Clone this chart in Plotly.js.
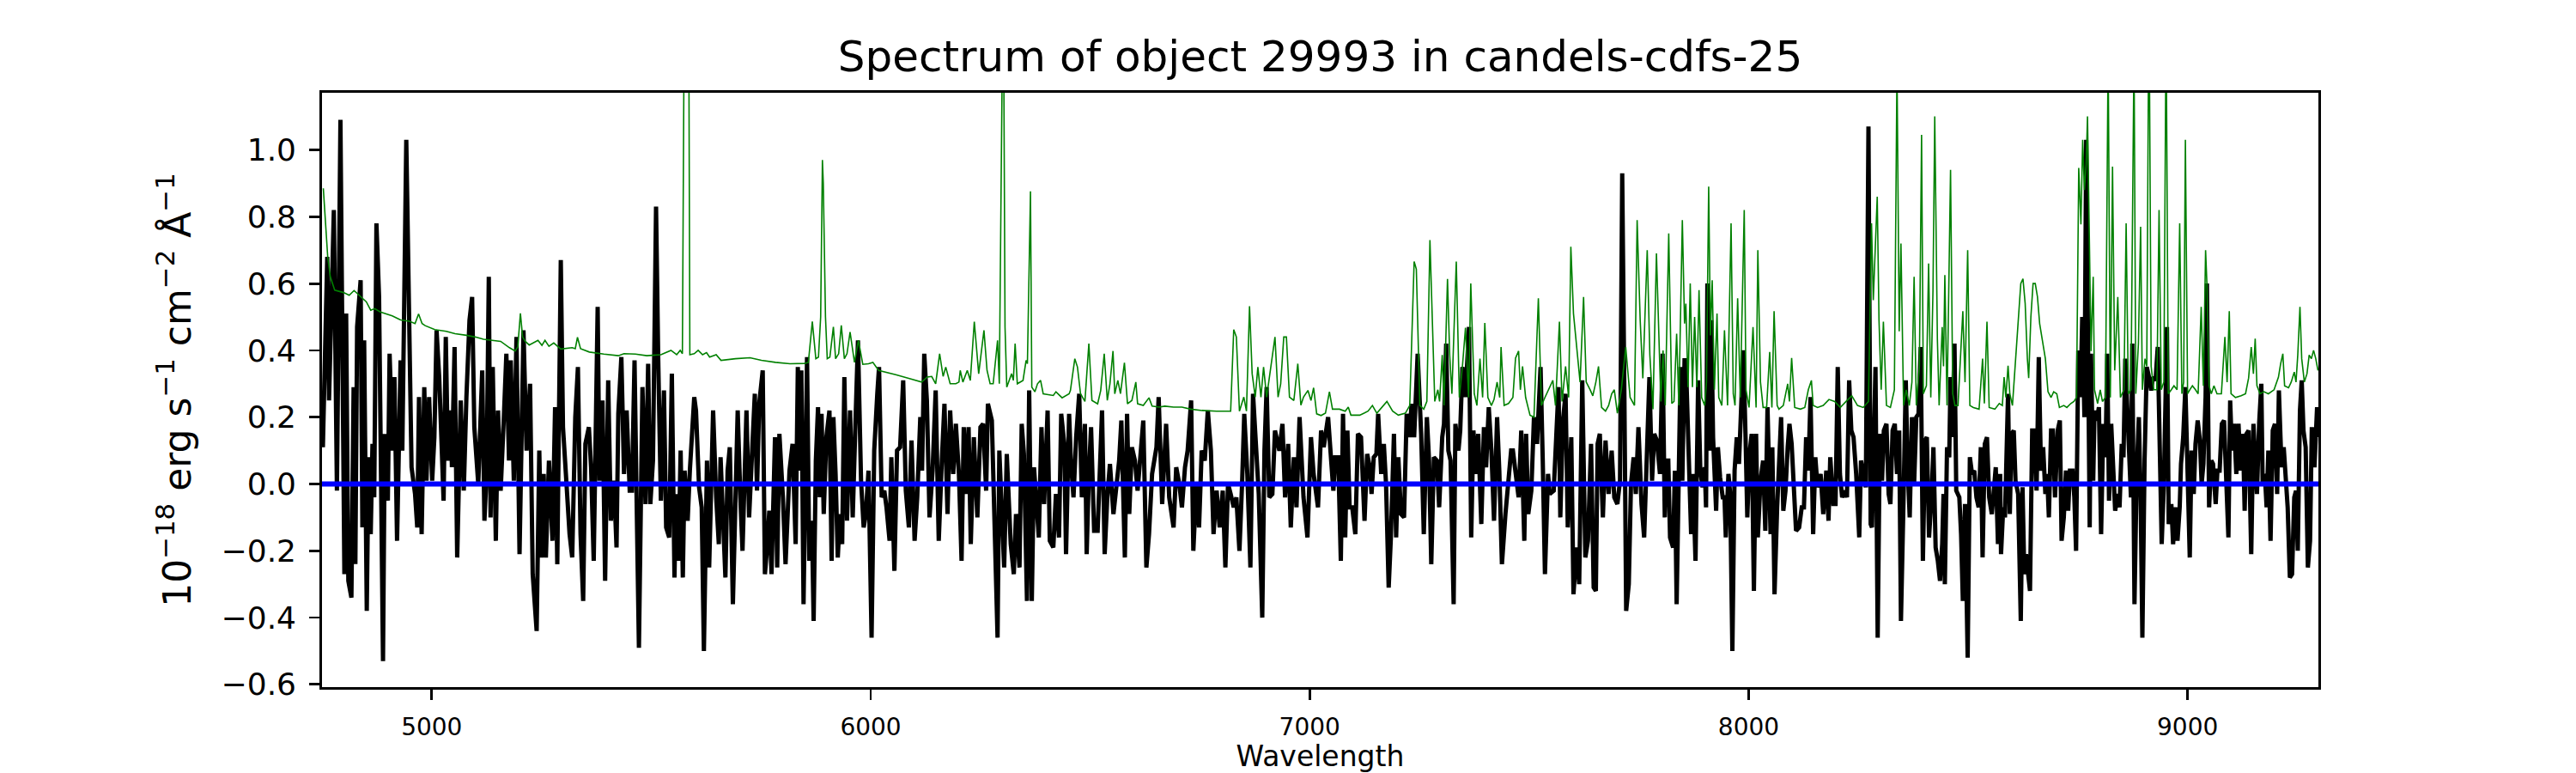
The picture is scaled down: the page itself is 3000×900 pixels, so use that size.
<!DOCTYPE html>
<html>
<head>
<meta charset="utf-8">
<script src="https://cdn.plot.ly/plotly-3.0.1.min.js"></script>
<style>
  body { margin: 0; background: #fff; }
  #chart { width: 3000px; height: 900px; }
</style>
</head>
<body>
<div id="chart"></div>
<script>
// object flux, [wavelength (A), 1e-18 erg/s/cm2/A]
const fluxBlue = [[4752,0.11],[4762,0.68],[4766,0.25],[4777,0.82],[4784,-0.02],[4792,1.09],[4801,-0.27],[4805,0.51],[4810,-0.29],[4817,-0.34],[4822,0.29],[4826,-0.24],[4830,0.47],[4838,0.61],[4842,-0.13],[4846,0.43],[4852,-0.38],[4856,0.08],[4861,-0.15],[4865,0.12],[4869,-0.04],[4874,0.78],[4880,0.56],[4889,-0.53],[4893,0.15],[4900,-0.05],[4904,0.39],[4911,0.10],[4915,0.32],[4921,-0.17],[4929,0.37],[4933,0.10],[4942,1.03],[4947,0.60],[4954,0.05],[4962,-0.03],[4967,-0.13],[4971,0.26],[4977,-0.15],[4983,0.29],[4988,0.01],[4994,0.26],[5001,0.01],[5006,0.14],[5011,0.46],[5017,0.32],[5027,-0.05],[5032,0.44],[5037,0.07],[5043,0.22],[5046,0.05],[5052,0.41],[5058,-0.22],[5066,0.25],[5073,-0.02],[5079,0.26],[5086,0.49],[5092,0.56],[5097,0.17],[5106,0.00],[5115,0.34],[5120,-0.11],[5125,0.03],[5130,0.62],[5134,-0.10],[5139,0.35],[5146,-0.17],[5151,0.22],[5157,-0.02],[5164,0.19],[5170,0.39],[5176,0.07],[5180,0.37],[5187,0.01],[5193,0.44],[5200,-0.21],[5209,0.46],[5216,0.10],[5224,0.30],[5230,-0.27],[5239,-0.44],[5245,0.10],[5250,-0.22],[5255,0.03],[5260,-0.22],[5267,0.07],[5275,-0.17],[5281,0.23],[5286,-0.24],[5294,0.67],[5299,0.17],[5307,0.00],[5314,-0.15],[5320,-0.22],[5327,0.20],[5333,0.35],[5339,-0.15],[5345,-0.35],[5350,0.12],[5358,0.17],[5363,0.05],[5369,-0.23],[5378,0.53],[5382,0.01],[5389,0.25],[5395,-0.29],[5402,0.31],[5408,-0.11],[5415,0.01],[5421,-0.19],[5425,0.21],[5432,0.38],[5438,0.03],[5444,0.22],[5451,-0.02],[5456,-0.02],[5462,0.37],[5467,-0.07],[5472,-0.49],[5480,0.29],[5487,-0.06],[5493,0.36],[5498,-0.06],[5504,0.07],[5511,0.83],[5516,0.37],[5522,-0.05]];
const fluxGreen = [[5529,0.28],[5534,-0.13],[5541,-0.16],[5547,0.33],[5553,-0.28],[5556,-0.03],[5562,-0.23],[5567,0.10],[5572,-0.28],[5576,0.04],[5583,-0.11],[5588,0.04],[5598,0.26],[5602,0.22],[5609,-0.01],[5615,-0.07],[5620,-0.50],[5627,0.07],[5632,-0.25],[5641,0.22],[5648,-0.04],[5654,-0.18],[5658,0.08],[5663,-0.09],[5669,-0.28],[5674,0.04],[5679,0.11],[5686,-0.36],[5691,-0.04],[5697,0.22],[5703,-0.04],[5708,-0.20],[5717,0.22],[5723,-0.10],[5731,0.13],[5736,0.27],[5741,-0.02],[5746,0.24],[5754,0.34],[5759,-0.27],[5764,-0.19],[5769,-0.08],[5774,-0.27],[5782,0.14],[5787,-0.25],[5792,0.15],[5800,-0.04],[5806,-0.24],[5815,0.04],[5822,0.12],[5829,-0.18],[5834,0.35],[5839,0.04],[5842,0.34],[5847,-0.36],[5855,0.38],[5860,-0.23],[5866,-0.11],[5870,-0.41],[5875,0.07],[5880,0.23],[5884,-0.04],[5888,0.21],[5893,-0.09],[5899,0.14],[5906,0.22],[5911,-0.23],[5915,0.20],[5920,0.03],[5925,-0.22],[5930,-0.09],[5935,-0.18],[5940,0.32],[5946,-0.11],[5953,0.22],[5959,-0.10],[5965,0.17],[5971,0.43],[5978,0.01],[5984,-0.13],[5989,-0.09],[5995,0.04],[6002,-0.46],[6008,0.10],[6015,0.27],[6019,0.35],[6025,-0.04],[6031,-0.02],[6036,-0.07],[6043,-0.17],[6047,0.08],[6054,-0.26],[6060,0.10],[6067,0.11],[6074,0.31],[6080,-0.02],[6087,-0.13],[6093,0.13],[6100,-0.17],[6106,-0.04],[6113,0.20],[6117,0.04],[6122,0.39],[6128,0.25],[6134,-0.10],[6141,0.04],[6148,0.28],[6155,-0.17],[6162,0.07],[6168,0.24],[6175,-0.09],[6181,0.22],[6188,0.03],[6194,0.18],[6201,0.03],[6207,-0.23],[6212,0.17],[6219,-0.03],[6223,0.17],[6228,-0.18],[6235,0.14],[6243,-0.10],[6250,0.17],[6256,0.18],[6263,-0.02],[6267,0.24],[6276,0.19],[6282,-0.09]];
const fluxYellow = [[6289,-0.46],[6293,0.10],[6299,-0.09],[6304,-0.25],[6310,0.09],[6315,-0.09],[6319,-0.18],[6326,-0.27],[6331,-0.09],[6339,-0.25],[6344,0.18],[6349,0.09],[6356,-0.35],[6361,0.28],[6367,-0.35],[6372,0.05],[6377,-0.06],[6383,-0.16],[6389,0.17],[6395,-0.06],[6403,0.22],[6408,-0.17],[6416,-0.19],[6422,-0.03],[6429,-0.16],[6434,0.21],[6441,0.12],[6445,-0.21],[6452,0.21],[6456,0.07],[6462,-0.04],[6468,0.14],[6475,0.27],[6481,-0.04],[6488,0.18],[6492,-0.21],[6497,0.03],[6502,0.17],[6509,-0.14],[6517,-0.14],[6527,0.22],[6533,-0.21],[6539,-0.04],[6545,0.06],[6553,-0.09],[6559,-0.01],[6566,0.07],[6571,0.19],[6579,-0.22],[6584,0.21],[6589,-0.09],[6595,0.11],[6602,0.07],[6608,-0.02],[6621,0.19],[6628,-0.25],[6634,-0.15],[6641,0.03],[6651,0.11],[6656,0.26],[6664,-0.06],[6673,0.18],[6680,-0.04],[6690,-0.13],[6696,0.05],[6703,0.00],[6709,-0.07],[6716,0.05],[6722,0.10],[6730,0.25],[6735,-0.20],[6742,0.00],[6748,-0.13],[6754,0.10],[6761,0.07],[6768,0.22],[6775,0.10],[6781,-0.15],[6788,-0.02],[6795,-0.13],[6802,-0.02],[6808,-0.25],[6814,0.00],[6820,-0.03],[6827,-0.07],[6833,-0.04],[6840,-0.20],[6846,0.00],[6851,0.21],[6858,0.03],[6865,-0.25],[6871,0.27],[6879,0.06],[6884,-0.03],[6892,-0.40],[6897,0.10],[6902,0.29],[6908,-0.04],[6915,-0.03],[6921,0.16],[6931,0.10],[6938,0.18],[6944,-0.04],[6951,0.12],[6957,-0.13],[6964,0.08],[6970,-0.07],[6977,0.20],[6986,-0.04],[6995,-0.16],[7003,0.14],[7009,0.03],[7019,-0.07],[7026,0.16],[7032,0.11],[7042,0.20]];
const fluxOrange = [[7049,0.07],[7054,-0.02],[7058,0.08],[7065,0.08],[7071,-0.23],[7076,0.21],[7081,-0.16],[7086,0.16],[7091,-0.07],[7097,-0.07],[7104,-0.15],[7110,0.15],[7117,0.14],[7125,-0.11],[7131,0.09],[7137,0.05],[7141,-0.03],[7146,0.08],[7152,0.09],[7156,0.21],[7163,0.03],[7169,0.12],[7174,0.00],[7180,-0.31],[7185,-0.16],[7192,0.15],[7197,-0.16],[7202,0.08],[7208,-0.09],[7215,-0.10],[7221,0.21],[7228,0.14],[7232,0.24],[7238,0.14],[7246,0.39],[7254,0.15],[7260,-0.15],[7267,0.20],[7272,0.07],[7277,-0.24],[7283,0.08],[7290,0.07],[7295,-0.07],[7302,0.14],[7306,0.18],[7311,0.42],[7316,0.10],[7321,0.07],[7328,-0.36],[7332,0.18],[7339,0.10],[7343,0.16],[7348,0.35],[7355,0.26],[7363,0.47],[7368,-0.16],[7373,0.16],[7380,0.03],[7384,0.15],[7391,-0.12],[7397,0.17],[7402,0.05],[7408,0.23],[7414,0.10],[7420,-0.11],[7427,0.20],[7432,0.04],[7438,-0.24],[7446,-0.09],[7453,0.03],[7459,0.10],[7463,0.10],[7469,0.04],[7476,-0.04],[7482,0.16],[7489,-0.17],[7493,0.15],[7498,-0.09],[7505,-0.02],[7511,0.20],[7518,0.12],[7526,0.35],[7531,0.07],[7536,-0.27],[7543,0.03],[7547,-0.03],[7556,-0.02],[7560,0.11],[7567,0.29],[7571,-0.10],[7577,0.19],[7583,0.27],[7588,-0.13],[7596,0.14],[7601,-0.33],[7608,-0.19],[7614,-0.30],[7621,0.31],[7628,-0.22],[7634,-0.17],[7641,0.12],[7647,-0.31],[7652,-0.32],[7656,0.12],[7661,0.15],[7668,-0.10],[7674,0.13],[7681,-0.03],[7688,0.10],[7694,-0.04],[7701,-0.06],[7707,0.01],[7712,0.93],[7717,0.26],[7721,-0.38],[7727,-0.30],[7732,0.00],[7738,0.08],[7743,-0.03],[7749,0.17],[7756,-0.06],[7762,-0.16],[7769,0.13],[7774,0.32],[7780,0.01],[7785,0.15],[7791,0.13],[7798,0.03]];
const fluxRed = [[7804,0.39],[7809,-0.10],[7812,0.07],[7817,0.07],[7821,-0.16],[7828,-0.19],[7832,0.04],[7836,-0.36],[7841,0.04],[7845,0.35],[7849,0.01],[7854,0.37],[7857,0.37],[7860,0.23],[7865,-0.04],[7869,-0.15],[7873,0.03],[7879,-0.23],[7885,0.31],[7890,0.04],[7895,-0.01],[7900,0.05],[7903,-0.07],[7906,0.60],[7911,0.10],[7915,0.49],[7919,0.14],[7926,-0.08],[7930,0.11],[7935,0.02],[7941,-0.04],[7945,-0.04],[7948,-0.16],[7954,0.03],[7958,-0.03],[7963,-0.50],[7968,0.04],[7973,0.14],[7978,0.06],[7982,0.21],[7988,0.40],[7993,0.14],[7997,-0.10],[8002,0.09],[8007,0.15],[8012,-0.32],[8017,0.15],[8021,-0.16],[8027,0.01],[8033,0.07],[8038,-0.14],[8043,0.23],[8050,-0.15],[8054,0.11],[8059,-0.33],[8065,-0.07],[8069,0.03],[8074,0.20],[8079,-0.08],[8084,-0.02],[8089,0.11],[8093,0.18],[8098,0.12],[8104,-0.02],[8108,-0.14],[8115,-0.13],[8121,-0.07],[8126,-0.07],[8131,0.14],[8136,0.04],[8141,0.26],[8147,-0.15],[8152,0.08],[8157,-0.01],[8164,0.03],[8170,-0.09],[8177,0.04],[8182,-0.11],[8186,0.08],[8193,-0.06],[8198,-0.06],[8203,0.35],[8208,0.03],[8213,-0.04],[8219,-0.02],[8224,-0.04],[8229,0.31],[8234,0.16],[8239,0.14],[8245,0.03],[8252,-0.16],[8256,0.07],[8261,0.03],[8267,-0.01],[8273,1.07],[8278,-0.12],[8281,-0.13],[8284,0.03],[8289,0.35],[8294,-0.46],[8299,0.15],[8304,0.01],[8308,0.16],[8314,0.18],[8319,-0.03],[8323,-0.06],[8328,0.16],[8333,0.18],[8338,0.03],[8343,0.16],[8347,-0.41],[8353,-0.04],[8358,0.31],[8362,0.06],[8367,-0.10],[8372,0.20],[8377,0.00],[8382,0.20],[8387,0.21],[8392,0.41],[8397,-0.23],[8402,0.13],[8406,0.14],[8411,-0.16],[8417,-0.03],[8421,0.11],[8426,-0.19],[8431,-0.23],[8436,-0.29],[8441,-0.18],[8444,-0.03],[8447,-0.30],[8452,0.11],[8457,0.08],[8460,0.32],[8464,0.14],[8469,0.42],[8473,-0.02],[8480,-0.04],[8484,-0.15],[8488,-0.35],[8493,-0.06],[8499,-0.52],[8504,0.08],[8509,0.03],[8514,0.04],[8519,-0.04],[8524,-0.07],[8529,0.11],[8533,-0.22],[8538,0.12],[8543,0.14],[8548,-0.04],[8554,-0.09],[8558,-0.04],[8563,0.05],[8568,-0.18],[8573,0.03]];
const fluxIR = [[8575,-0.21],[8580,-0.07],[8584,-0.10],[8591,0.27],[8595,-0.09],[8599,0.15],[8604,0.16],[8608,0.01],[8614,-0.03],[8620,-0.41],[8624,-0.01],[8628,-0.27],[8632,-0.21],[8637,-0.27],[8641,-0.32],[8646,0.16],[8651,0.16],[8656,-0.02],[8661,0.38],[8666,0.04],[8671,0.11],[8676,-0.03],[8680,0.03],[8684,-0.10],[8689,0.16],[8693,0.16],[8698,-0.04],[8704,0.16],[8709,0.19],[8713,-0.17],[8718,-0.10],[8723,0.04],[8728,-0.08],[8732,0.04],[8738,0.04],[8742,-0.04],[8746,-0.20],[8751,0.40],[8756,0.26],[8760,0.50],[8765,0.20],[8769,1.03],[8773,0.47],[8777,-0.13],[8780,0.39],[8785,0.01],[8788,0.22],[8793,0.19],[8798,0.23],[8803,-0.15],[8808,0.18],[8813,0.08],[8817,0.39],[8821,-0.05],[8826,0.18],[8830,0.05],[8835,-0.08],[8841,-0.03],[8845,-0.07],[8850,0.12],[8854,0.08],[8858,0.375],[8863,0.18],[8867,0.03],[8871,-0.04],[8874,0.42],[8879,-0.36],[8884,0.03],[8889,0.20],[8893,-0.04],[8897,-0.46],[8902,0.07],[8907,0.35],[8912,0.32],[8917,0.28],[8921,0.32],[8927,0.31],[8932,0.41],[8936,0.14],[8941,-0.18],[8946,0.00],[8953,0.47],[8957,-0.12],[8963,-0.06],[8967,-0.18],[8972,-0.07],[8977,-0.17],[8982,-0.07],[8985,0.06],[8990,0.14],[8995,0.29],[9000,0.00],[9005,-0.22],[9009,0.10],[9014,-0.03],[9018,0.12],[9023,0.19],[9028,0.13],[9032,0.00],[9036,0.06],[9041,0.26],[9044,0.60],[9049,-0.07],[9054,0.07],[9058,0.06],[9064,-0.06],[9068,0.04],[9073,0.04],[9078,0.18],[9083,0.19],[9088,0.01],[9093,-0.16],[9097,0.25],[9101,0.10],[9106,0.18],[9111,0.03],[9116,0.18],[9121,0.04],[9126,0.15],[9130,-0.08],[9134,0.15],[9139,0.16],[9145,-0.21],[9150,0.18],[9154,0.07],[9158,-0.03],[9163,0.18],[9168,0.30],[9171,0.00],[9176,0.03],[9180,-0.07],[9184,0.10],[9189,-0.17],[9194,0.16],[9199,0.18],[9204,-0.03],[9208,0.28],[9214,0.05],[9219,0.11],[9223,0.03],[9228,-0.07],[9233,-0.28],[9238,-0.27],[9243,-0.04],[9247,-0.02],[9251,-0.20],[9256,0.22],[9260,0.31],[9264,0.16],[9269,0.11],[9274,-0.25],[9279,-0.17],[9283,0.17],[9289,0.05],[9292,0.20],[9295,0.23],[9298,0.14]];

// noise / sky spectrum (thin green line), same units
const skyBlue = [[4753,0.885],[4763,0.68],[4769,0.62],[4779,0.58],[4799,0.573],[4812,0.565],[4823,0.579],[4838,0.561],[4851,0.545],[4861,0.52],[4870,0.525],[4883,0.515],[4896,0.51],[4910,0.503],[4923,0.495],[4929,0.491],[4949,0.487],[4962,0.48],[4970,0.509],[4978,0.48],[4985,0.474],[5007,0.462],[5033,0.457],[5053,0.45],[5079,0.445],[5099,0.44],[5118,0.433],[5138,0.43],[5157,0.427],[5177,0.408],[5190,0.398],[5196,0.41],[5202,0.511],[5207,0.44],[5213,0.427],[5222,0.416],[5242,0.43],[5251,0.415],[5258,0.43],[5267,0.412],[5278,0.422],[5294,0.404],[5320,0.408],[5327,0.405],[5332,0.439],[5339,0.405],[5359,0.395],[5392,0.389],[5425,0.384],[5438,0.39],[5464,0.389],[5490,0.384],[5522,0.387]];
const skyGreen = [[5545,0.40],[5558,0.387],[5566,0.40],[5571,0.39],[5576,1.6],[5585,1.6],[5588,0.387],[5598,0.39],[5607,0.40],[5617,0.387],[5626,0.393],[5633,0.38],[5648,0.387],[5659,0.37],[5692,0.375],[5725,0.378],[5751,0.37],[5783,0.364],[5816,0.36],[5849,0.361],[5858,0.364],[5867,0.486],[5875,0.375],[5881,0.38],[5886,0.5],[5890,0.97],[5892,0.9],[5894,0.77],[5897,0.5],[5901,0.375],[5907,0.38],[5915,0.47],[5920,0.375],[5927,0.39],[5933,0.475],[5940,0.375],[5946,0.39],[5953,0.455],[5963,0.364],[5972,0.43],[5982,0.358],[5995,0.36],[6005,0.364],[6018,0.34],[6034,0.335],[6057,0.327],[6090,0.315],[6116,0.305],[6129,0.32],[6139,0.322],[6148,0.30],[6157,0.39],[6165,0.322],[6171,0.35],[6181,0.30],[6194,0.30],[6201,0.305],[6204,0.34],[6210,0.305],[6220,0.34],[6227,0.31],[6236,0.486],[6246,0.33],[6258,0.46],[6265,0.34],[6272,0.30]];
const skyYellow = [[6279,0.30],[6289,0.43],[6293,0.30],[6297,1.6],[6302,1.6],[6306,0.47],[6310,0.29],[6321,0.33],[6325,0.31],[6329,0.42],[6334,0.30],[6347,0.31],[6354,0.37],[6357,0.36],[6364,0.876],[6367,0.29],[6374,0.276],[6380,0.30],[6387,0.31],[6393,0.27],[6416,0.265],[6422,0.276],[6436,0.258],[6452,0.27],[6455,0.28],[6465,0.375],[6471,0.35],[6478,0.27],[6488,0.247],[6497,0.42],[6504,0.25],[6517,0.24],[6524,0.28],[6532,0.39],[6539,0.25],[6545,0.30],[6552,0.398],[6556,0.27],[6563,0.31],[6569,0.27],[6578,0.363],[6585,0.24],[6595,0.25],[6604,0.305],[6608,0.24],[6621,0.235],[6634,0.258],[6641,0.233],[6657,0.23],[6670,0.233],[6690,0.23],[6709,0.23],[6729,0.224],[6755,0.22],[6788,0.218],[6820,0.218],[6827,0.462],[6833,0.44],[6840,0.218],[6850,0.26],[6856,0.218],[6863,0.532],[6869,0.33],[6876,0.26],[6882,0.35],[6889,0.26],[6895,0.35],[6902,0.26],[6911,0.35],[6921,0.44],[6928,0.26],[6934,0.30],[6941,0.44],[6947,0.44],[6954,0.26],[6964,0.25],[6973,0.36],[6980,0.236],[6986,0.26],[6996,0.28],[7003,0.25],[7009,0.288],[7016,0.21],[7026,0.205]];
const skyOrange = [[7036,0.212],[7045,0.276],[7052,0.224],[7068,0.224],[7081,0.218],[7088,0.23],[7094,0.206],[7114,0.206],[7124,0.212],[7133,0.218],[7143,0.235],[7153,0.212],[7176,0.247],[7189,0.218],[7202,0.206],[7218,0.212],[7228,0.235],[7238,0.666],[7243,0.643],[7251,0.235],[7260,0.224],[7267,0.247],[7274,0.73],[7280,0.48],[7285,0.247],[7292,0.282],[7296,0.247],[7302,0.386],[7306,0.235],[7314,0.614],[7319,0.386],[7324,0.27],[7328,0.433],[7334,0.666],[7341,0.259],[7348,0.352],[7355,0.468],[7362,0.259],[7367,0.60],[7375,0.27],[7381,0.235],[7388,0.375],[7394,0.259],[7399,0.482],[7406,0.259],[7414,0.235],[7420,0.253],[7427,0.305],[7433,0.259],[7436,0.41],[7443,0.235],[7453,0.241],[7463,0.259],[7469,0.377],[7476,0.398],[7480,0.282],[7485,0.352],[7492,0.259],[7502,0.206],[7511,0.2],[7521,0.556],[7528,0.235],[7536,0.259],[7544,0.282],[7554,0.31],[7560,0.235],[7569,0.486],[7575,0.247],[7583,0.352],[7590,0.259],[7595,0.71],[7601,0.51],[7609,0.398],[7616,0.305],[7624,0.56],[7630,0.305],[7639,0.282],[7645,0.264],[7652,0.305],[7658,0.352],[7665,0.229],[7674,0.218],[7681,0.235],[7688,0.27],[7694,0.282],[7701,0.212],[7710,0.282],[7720,0.41],[7730,0.259],[7740,0.235],[7746,0.79],[7753,0.49],[7759,0.316],[7769,0.70],[7775,0.386],[7782,0.224],[7790,0.69],[7797,0.352]];
const skyRed = [[7800,0.247],[7805,0.40],[7810,0.235],[7818,0.75],[7825,0.241],[7830,0.247],[7836,0.45],[7841,0.235],[7849,0.79],[7854,0.48],[7857,0.54],[7862,0.29],[7867,0.60],[7872,0.29],[7877,0.50],[7882,0.29],[7887,0.58],[7893,0.259],[7900,0.235],[7904,0.305],[7909,0.89],[7913,0.445],[7917,0.61],[7922,0.282],[7928,0.51],[7932,0.259],[7939,0.235],[7945,0.46],[7952,0.235],[7960,0.78],[7965,0.27],[7969,0.235],[7975,0.556],[7981,0.259],[7990,0.82],[7994,0.282],[8001,0.229],[8010,0.47],[8017,0.229],[8021,0.70],[8027,0.305],[8033,0.229],[8041,0.229],[8048,0.395],[8053,0.229],[8058,0.517],[8065,0.235],[8069,0.224],[8079,0.235],[8089,0.30],[8093,0.247],[8098,0.377],[8105,0.229],[8118,0.224],[8128,0.229],[8136,0.282],[8143,0.31],[8147,0.235],[8157,0.229],[8170,0.235],[8183,0.253],[8196,0.247],[8209,0.229],[8222,0.247],[8235,0.264],[8248,0.235],[8261,0.229],[8273,0.247],[8280,0.78],[8284,0.55],[8293,0.86],[8297,0.49],[8302,0.282],[8307,0.486],[8314,0.235],[8323,0.229],[8332,0.282],[8338,1.25],[8343,0.457],[8347,0.72],[8353,0.235],[8359,0.282],[8366,0.235],[8372,0.305],[8377,0.62],[8382,0.235],[8389,0.352],[8394,1.045],[8398,0.27],[8405,0.294],[8410,0.66],[8415,0.259],[8420,0.58],[8424,1.10],[8430,0.433],[8434,0.235],[8441,0.47],[8444,0.352],[8447,0.625],[8452,0.235],[8456,0.595],[8460,0.94],[8465,0.27],[8470,0.235],[8477,0.235],[8488,0.517],[8493,0.305],[8499,0.70],[8504,0.235],[8512,0.229],[8525,0.224],[8533,0.375],[8537,0.241],[8543,0.486],[8548,0.229],[8561,0.224],[8571,0.241]];
const skyIR = [[8578,0.235],[8582,0.32],[8586,0.259],[8591,0.354],[8595,0.27],[8601,0.235],[8607,0.35],[8614,0.50],[8620,0.60],[8625,0.614],[8630,0.54],[8635,0.375],[8638,0.317],[8643,0.50],[8648,0.60],[8653,0.60],[8658,0.56],[8663,0.48],[8669,0.433],[8676,0.375],[8682,0.276],[8689,0.259],[8695,0.276],[8702,0.27],[8708,0.229],[8718,0.235],[8725,0.229],[8734,0.241],[8741,0.247],[8747,0.259],[8752,0.946],[8757,0.777],[8761,1.03],[8765,0.88],[8769,0.957],[8772,1.10],[8777,0.666],[8780,0.398],[8785,0.62],[8788,0.282],[8795,0.241],[8801,0.282],[8806,0.247],[8813,0.259],[8819,1.3],[8824,0.259],[8829,0.95],[8834,0.34],[8841,0.56],[8847,0.259],[8855,0.282],[8860,0.78],[8865,0.27],[8871,0.282],[8878,1.3],[8882,0.27],[8888,0.42],[8893,0.77],[8897,0.282],[8903,0.375],[8907,0.352],[8912,1.5],[8917,0.352],[8923,0.282],[8930,0.282],[8935,0.82],[8940,0.282],[8946,0.305],[8951,1.4],[8956,0.27],[8963,0.282],[8969,0.294],[8976,0.282],[8982,0.78],[8987,0.27],[8991,0.305],[8995,1.03],[9000,0.27],[9005,0.282],[9011,0.294],[9018,0.282],[9024,0.27],[9031,0.53],[9036,0.294],[9041,0.70],[9044,0.60],[9049,0.294],[9054,0.27],[9060,0.294],[9067,0.27],[9077,0.27],[9085,0.44],[9090,0.305],[9095,0.517],[9099,0.27],[9109,0.259],[9122,0.264],[9132,0.27],[9139,0.317],[9145,0.41],[9150,0.33],[9154,0.435],[9158,0.294],[9165,0.27],[9174,0.276],[9184,0.27],[9197,0.282],[9207,0.32],[9212,0.36],[9217,0.39],[9221,0.294],[9230,0.288],[9236,0.305],[9243,0.335],[9247,0.305],[9251,0.386],[9256,0.53],[9260,0.375],[9266,0.305],[9272,0.33],[9277,0.386],[9282,0.375],[9287,0.40],[9292,0.375],[9297,0.34]];

const xTicks = [5000, 6000, 7000, 8000, 9000];
const yTicks = [-0.6, -0.4, -0.2, 0.0, 0.2, 0.4, 0.6, 0.8, 1.0];
const zeroLevel = [0, 0];

const flux = [].concat(fluxBlue, fluxGreen, fluxYellow, fluxOrange, fluxRed, fluxIR);
const sky = [].concat(skyBlue, skyGreen, skyYellow, skyOrange, skyRed, skyIR);

const FONT = 'DejaVu Sans, Liberation Sans, sans-serif';

const traces = [
  {
    x: flux.map(p => p[0]),
    y: flux.map(p => p[1]),
    type: 'scatter',
    mode: 'lines',
    line: { color: '#000000', width: 5 },
    hoverinfo: 'skip',
  },
  {
    x: sky.map(p => p[0]),
    y: sky.map(p => p[1]),
    type: 'scatter',
    mode: 'lines',
    line: { color: '#008000', width: 1.6 },
    hoverinfo: 'skip',
  },
  {
    x: [4750, 9298],
    y: zeroLevel,
    type: 'scatter',
    mode: 'lines',
    line: { color: '#0000ff', width: 6 },
    hoverinfo: 'skip',
  },
];

const axisCommon = {
  showgrid: false,
  zeroline: false,
  showline: true,
  mirror: true,
  linecolor: '#000000',
  linewidth: 2.8,
  ticks: 'outside',
  ticklen: 12,
  tickwidth: 2.8,
  tickcolor: '#000000',
};

const layout = {
  width: 3000,
  height: 900,
  margin: { l: 375, r: 300, t: 108, b: 100 },
  paper_bgcolor: '#ffffff',
  plot_bgcolor: '#ffffff',
  showlegend: false,
  font: { family: FONT, color: '#000000' },
  title: {
    text: 'Spectrum of object 29993 in candels-cdfs-25',
    font: { family: FONT, size: 50, color: '#000000' },
    xref: 'paper',
    x: 0.5,
    xanchor: 'center',
    yref: 'container',
    y: 0.908,
    yanchor: 'bottom',
  },
  xaxis: Object.assign({}, axisCommon, {
    range: [4750, 9298],
    tickvals: xTicks,
    ticktext: xTicks.map(String),
    tickfont: { family: FONT, size: 28 },
    ticklabelstandoff: 8,
    title: {
      text: 'Wavelength',
      font: { family: FONT, size: 33 },
      standoff: 8,
    },
  }),
  yaxis: Object.assign({}, axisCommon, {
    range: [-0.608, 1.171],
    tickvals: yTicks,
    tickformat: '.1f',
    tickfont: { family: FONT, size: 36 },
    ticklabelstandoff: 8,
    title: {
      text: '10<sup>−18</sup> erg s<sup>−1</sup> cm<sup>−2</sup> Å<sup>−1</sup>',
      font: { family: FONT, size: 44 },
      standoff: 22,
    },
  }),
};

Plotly.newPlot('chart', traces, layout, { displayModeBar: false, staticPlot: true });
</script>
</body>
</html>
